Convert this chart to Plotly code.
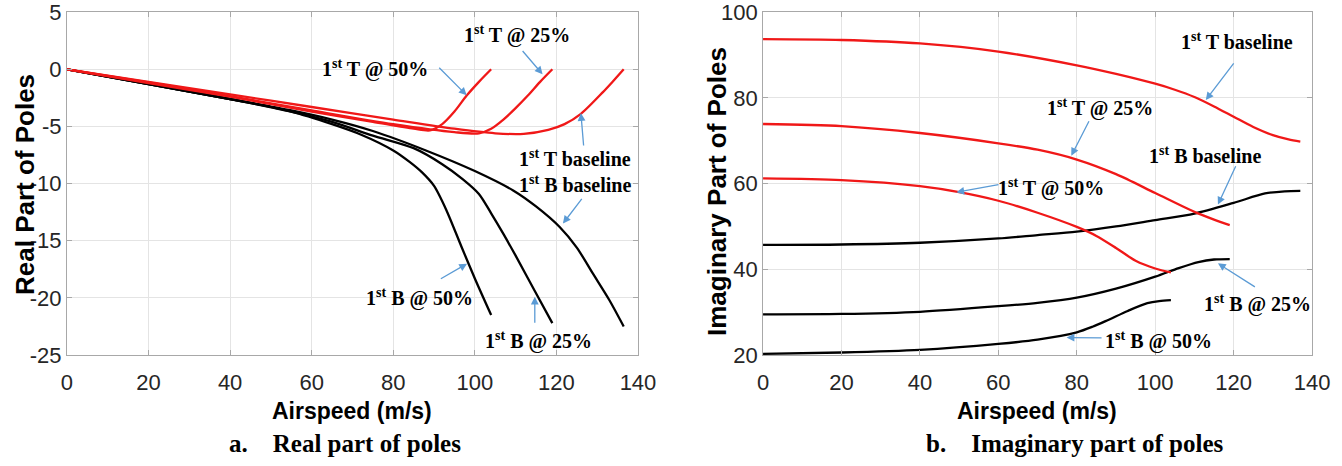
import plotly.graph_objects as go

# ---------------- Data: (a) Real part of poles ----------------
re_t_base_x = [0, 20, 40, 60, 80, 95, 105, 112, 118, 122, 126, 131.4, 134, 136.5]
re_t_base_y = [0, -1.1, -2.2, -3.3, -4.4, -5.2, -5.6, -5.65, -5.3, -4.8, -3.9, -2.0, -1.0, 0]
re_t_25_x = [0, 20, 40, 60, 80, 95, 101, 104, 107, 110, 113, 116, 119]
re_t_25_y = [0, -1.15, -2.35, -3.6, -4.8, -5.5, -5.6, -5.2, -4.4, -3.4, -2.3, -1.1, 0]
re_t_50_x = [0, 20, 40, 60, 75, 85, 89, 92, 95, 98, 101, 104]
re_t_50_y = [0, -1.2, -2.4, -3.7, -4.6, -5.2, -5.35, -4.8, -3.7, -2.3, -1.1, 0]
re_b_base_x = [0, 20, 40, 55, 65, 75, 88, 100, 109.4, 115, 120.8, 125, 129, 133, 136.5]
re_b_base_y = [0, -1.3, -2.6, -3.6, -4.4, -5.4, -7.1, -8.9, -10.6, -12.0, -13.8, -15.6, -17.9, -20.2, -22.5]
re_b_25_x = [0, 20, 40, 55, 65, 75, 85, 92, 97, 101, 104, 107, 110, 114.7, 119]
re_b_25_y = [0, -1.3, -2.6, -3.7, -4.6, -5.8, -6.9, -8.3, -9.6, -10.9, -12.6, -14.4, -16.3, -19.4, -22.2]
re_b_50_x = [0, 20, 40, 55, 65, 72, 80, 84, 87, 90, 93, 96.7, 100, 104]
re_b_50_y = [0, -1.3, -2.6, -3.7, -4.8, -5.7, -7.1, -8.1, -9.0, -10.2, -12.3, -15.5, -18.3, -21.5]

# ---------------- Data: (b) Imaginary part of poles ----------------
im_t_base_x = [0, 20, 40, 60, 80, 90, 100, 105, 110, 115, 120, 125, 130, 134, 137]
im_t_base_y = [93.7, 93.5, 92.7, 90.8, 87.6, 85.6, 83.3, 81.9, 80.2, 78.0, 75.6, 73.2, 71.3, 70.3, 69.8]
im_t_25_x = [0, 20, 40, 60, 70, 80, 90, 100, 110, 115, 119]
im_t_25_y = [73.9, 73.4, 71.8, 69.4, 67.9, 65.6, 62.2, 57.8, 53.4, 51.6, 50.3]
im_t_50_x = [0, 20, 40, 50, 60, 70, 80, 85, 90, 95, 100, 104]
im_t_50_y = [61.2, 60.8, 59.4, 58.0, 56.0, 53.2, 49.9, 47.8, 45.0, 42.0, 40.2, 39.3]
im_b_base_x = [0, 20, 40, 60, 70, 80, 90, 100, 110, 120, 128, 133, 137]
im_b_base_y = [45.7, 45.8, 46.2, 47.2, 48.0, 48.8, 50.0, 51.5, 53.0, 55.5, 57.7, 58.2, 58.3]
im_b_25_x = [0, 20, 40, 60, 70, 80, 90, 100, 106, 111, 115, 119]
im_b_25_y = [29.5, 29.6, 30.1, 31.4, 32.2, 33.4, 35.5, 38.3, 40.3, 41.7, 42.3, 42.4]
im_b_50_x = [0, 20, 40, 60, 70, 80, 84, 88, 93, 98, 101, 104]
im_b_50_y = [20.3, 20.6, 21.2, 22.6, 23.6, 25.3, 26.6, 28.2, 30.3, 32.1, 32.6, 32.8]

# ---------------- Tick labels ----------------
x_ticks = [0, 20, 40, 60, 80, 100, 120, 140]
x_ticktext = ["0", "20", "40", "60", "80", "100", "120", "140"]
re_ticks = [5, 0, -5, -10, -15, -20, -25]
re_ticktext = ["5", "0", "-5", "-10", "-15", "-20", "-25"]
im_ticks = [20, 40, 60, 80, 100]
im_ticktext = ["20", "40", "60", "80", "100"]

RED = "#f01818"
BLACK = "#000000"
ARROW = "#5b9bd5"
LW = 2.3

fig = go.Figure()

def add(x, y, color, xa, ya):
    fig.add_trace(go.Scatter(x=x, y=y, mode="lines", xaxis=xa, yaxis=ya,
                             line=dict(color=color, width=LW, shape="spline", smoothing=0.8),
                             showlegend=False, hoverinfo="skip"))

# left panel
add(re_b_base_x, re_b_base_y, BLACK, "x", "y")
add(re_b_25_x, re_b_25_y, BLACK, "x", "y")
add(re_b_50_x, re_b_50_y, BLACK, "x", "y")
add(re_t_base_x, re_t_base_y, RED, "x", "y")
add(re_t_25_x, re_t_25_y, RED, "x", "y")
add(re_t_50_x, re_t_50_y, RED, "x", "y")
# right panel
add(im_b_base_x, im_b_base_y, BLACK, "x2", "y2")
add(im_b_25_x, im_b_25_y, BLACK, "x2", "y2")
add(im_b_50_x, im_b_50_y, BLACK, "x2", "y2")
add(im_t_base_x, im_t_base_y, RED, "x2", "y2")
add(im_t_25_x, im_t_25_y, RED, "x2", "y2")
add(im_t_50_x, im_t_50_y, RED, "x2", "y2")

TICKFONT = dict(family="Liberation Sans Narrow, Arial Narrow, Liberation Sans, Arial", size=22, color="#262626")
axis_common = dict(showgrid=True, gridcolor="#e4e4e4", gridwidth=1, zeroline=False,
                   showline=True, linecolor="#a8a8a8", linewidth=1, mirror="ticks",
                   ticks="inside", ticklen=5, tickcolor="#a8a8a8", tickfont=TICKFONT,
                   ticklabeloverflow="allow", automargin=False)

YD = [0.238, 0.974]
fig.update_layout(
    width=1342, height=466, margin=dict(l=0, r=0, t=0, b=0, pad=0, autoexpand=False),
    paper_bgcolor="white", plot_bgcolor="white",
    xaxis=dict(domain=[0.0499, 0.4754], range=[0, 140], tickvals=x_ticks, ticktext=x_ticktext,
               anchor="y", ticklabelstandoff=8, **axis_common),
    yaxis=dict(domain=YD, range=[-25, 5], tickvals=re_ticks, ticktext=re_ticktext,
               anchor="x", **axis_common),
    xaxis2=dict(domain=[0.5686, 0.9777], range=[0, 140], tickvals=x_ticks, ticktext=x_ticktext,
                anchor="y2", ticklabelstandoff=8, **axis_common),
    yaxis2=dict(domain=YD, range=[20, 100], tickvals=im_ticks, ticktext=im_ticktext,
                anchor="x2", **axis_common),
)

LBL = dict(family="Liberation Serif, Times New Roman, serif", size=20, color="#000000")

def label(text, x, y, xr, yr):
    fig.add_annotation(text="<b>" + text + "</b>", x=x, y=y, xref=xr, yref=yr, showarrow=False,
                       font=LBL, xanchor="center", yanchor="middle")

def arrow(tx, ty, hx, hy, xr, yr):
    fig.add_annotation(x=hx, y=hy, ax=tx, ay=ty, xref=xr, yref=yr, axref=xr, ayref=yr,
                       text="", showarrow=True, arrowhead=2, arrowsize=1.2, arrowwidth=1.3,
                       arrowcolor=ARROW)

S = "1<sup>st</sup> "
# left labels
label(S + "T @ 50%", 75.5, 0.1, "x", "y")
arrow(90.9, 0.26, 98.0, -2.28, "x", "y")
label(S + "T @ 25%", 110.4, 3.0, "x", "y")
arrow(111.4, 1.73, 116.6, -0.44, "x", "y")
label(S + "T baseline", 124.5, -7.8, "x", "y")
arrow(126.7, -6.8, 126.0, -3.83, "x", "y")
label(S + "B baseline", 124.5, -10.0, "x", "y")
arrow(126.5, -11.2, 121.6, -13.5, "x", "y")
label(S + "B @ 50%", 86.4, -20.0, "x", "y")
arrow(91.3, -18.4, 98.1, -17.0, "x", "y")
label(S + "B @ 25%", 115.6, -23.7, "x", "y")
arrow(114.7, -22.3, 114.7, -19.9, "x", "y")
# right labels
label(S + "T baseline", 120.9, 93.3, "x2", "y2")
arrow(120.3, 88.4, 112.9, 79.5, "x2", "y2")
label(S + "T @ 25%", 86.0, 77.8, "x2", "y2")
arrow(83.3, 74.9, 78.6, 66.5, "x2", "y2")
label(S + "B baseline", 112.8, 66.7, "x2", "y2")
arrow(120.7, 64.4, 116.0, 55.1, "x2", "y2")
label(S + "T @ 50%", 73.4, 59.0, "x2", "y2")
arrow(60.4, 59.8, 49.3, 58.0, "x2", "y2")
label(S + "B @ 25%", 126.0, 32.1, "x2", "y2")
arrow(125.8, 35.7, 116.0, 41.4, "x2", "y2")
label(S + "B @ 50%", 100.9, 23.3, "x2", "y2")
arrow(86.7, 24.0, 77.4, 24.1, "x2", "y2")

# axis titles
FAM = "Liberation Sans Narrow, Arial Narrow, Liberation Sans, Arial"
TITLE_H = dict(family=FAM, size=23, color="#000000")
TITLE_V = dict(family=FAM, size=26, color="#000000")

def ptext(text, x, y, font, angle=0):
    fig.add_annotation(text=text, x=x / 1342, y=1 - y / 466, xref="paper", yref="paper",
                       showarrow=False, font=font, textangle=angle,
                       xanchor="center", yanchor="middle")

ptext("<b>Airspeed (m/s)</b>", 352, 411, TITLE_H)
ptext("<b>Airspeed (m/s)</b>", 1037, 411, TITLE_H)
ptext("<b>Real Part of Poles</b>", 25, 185, TITLE_V, -90)
ptext("<b>Imaginary Part of Poles</b>", 717, 192, TITLE_V, -90)

CAP = dict(family="Liberation Serif, Times New Roman, serif", size=25, color="#000000")
ptext("<b>a.&nbsp;&nbsp;&nbsp;&nbsp;Real part of poles</b>", 345, 443, CAP)
ptext("<b>b.&nbsp;&nbsp;&nbsp;&nbsp;Imaginary part of poles</b>", 1075, 443, CAP)

fig.write_html("out.html")
